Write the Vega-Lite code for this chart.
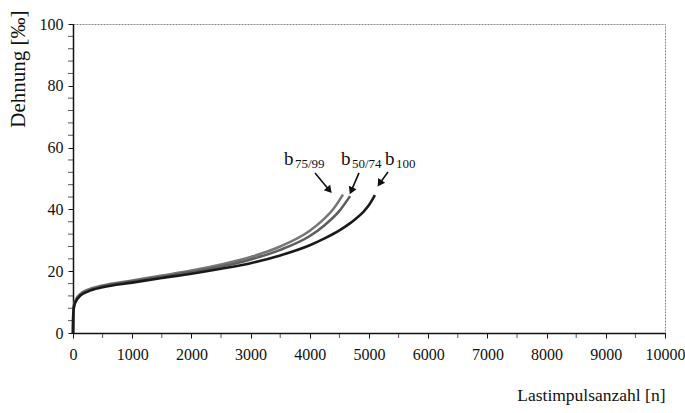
{
  "$schema": "https://vega.github.io/schema/vega-lite/v6.json",
  "width": 592,
  "height": 309,
  "autosize": {"type": "none"},
  "padding": {"left": 73, "top": 24, "right": 20, "bottom": 80},
  "background": "white",
  "config": {
    "view": {"stroke": "#8a8a8a", "strokeDash": [2, 1], "strokeWidth": 1},
    "font": "Liberation Serif",
    "axis": {"labelFont": "Liberation Serif", "titleFont": "Liberation Serif"}
  },
  "datasets": {
    "curves": [
      {"serie": "b75/99", "n": 0, "e": 0},
      {"serie": "b75/99", "n": 5, "e": 6.5},
      {"serie": "b75/99", "n": 20, "e": 9.3},
      {"serie": "b75/99", "n": 60, "e": 11.2},
      {"serie": "b75/99", "n": 120, "e": 12.6},
      {"serie": "b75/99", "n": 250, "e": 14.0},
      {"serie": "b75/99", "n": 500, "e": 15.4},
      {"serie": "b75/99", "n": 1000, "e": 17.0},
      {"serie": "b75/99", "n": 1500, "e": 18.6},
      {"serie": "b75/99", "n": 2000, "e": 20.2},
      {"serie": "b75/99", "n": 2500, "e": 22.2},
      {"serie": "b75/99", "n": 3000, "e": 24.6},
      {"serie": "b75/99", "n": 3500, "e": 28.0},
      {"serie": "b75/99", "n": 4000, "e": 33.1},
      {"serie": "b75/99", "n": 4200, "e": 36.2},
      {"serie": "b75/99", "n": 4400, "e": 40.2},
      {"serie": "b75/99", "n": 4560, "e": 44.8},
      {"serie": "b50/74", "n": 0, "e": 0},
      {"serie": "b50/74", "n": 5, "e": 6.3},
      {"serie": "b50/74", "n": 20, "e": 9.0},
      {"serie": "b50/74", "n": 60, "e": 10.9},
      {"serie": "b50/74", "n": 120, "e": 12.3},
      {"serie": "b50/74", "n": 250, "e": 13.7},
      {"serie": "b50/74", "n": 500, "e": 15.1},
      {"serie": "b50/74", "n": 1000, "e": 16.7},
      {"serie": "b50/74", "n": 1500, "e": 18.2},
      {"serie": "b50/74", "n": 2000, "e": 19.7},
      {"serie": "b50/74", "n": 2500, "e": 21.5},
      {"serie": "b50/74", "n": 3000, "e": 23.8},
      {"serie": "b50/74", "n": 3500, "e": 26.9},
      {"serie": "b50/74", "n": 4000, "e": 31.4},
      {"serie": "b50/74", "n": 4250, "e": 34.9},
      {"serie": "b50/74", "n": 4500, "e": 39.5},
      {"serie": "b50/74", "n": 4680, "e": 44.3},
      {"serie": "b100", "n": 0, "e": 0},
      {"serie": "b100", "n": 5, "e": 6.0},
      {"serie": "b100", "n": 20, "e": 8.8},
      {"serie": "b100", "n": 60, "e": 10.6},
      {"serie": "b100", "n": 120, "e": 12.0},
      {"serie": "b100", "n": 250, "e": 13.4},
      {"serie": "b100", "n": 500, "e": 14.8},
      {"serie": "b100", "n": 1000, "e": 16.3},
      {"serie": "b100", "n": 1500, "e": 17.8},
      {"serie": "b100", "n": 2000, "e": 19.2},
      {"serie": "b100", "n": 2500, "e": 20.8},
      {"serie": "b100", "n": 3000, "e": 22.6},
      {"serie": "b100", "n": 3500, "e": 25.1},
      {"serie": "b100", "n": 4000, "e": 28.4},
      {"serie": "b100", "n": 4250, "e": 30.6},
      {"serie": "b100", "n": 4500, "e": 33.2},
      {"serie": "b100", "n": 4700, "e": 35.8},
      {"serie": "b100", "n": 4900, "e": 39.1},
      {"serie": "b100", "n": 5000, "e": 41.4},
      {"serie": "b100", "n": 5100, "e": 44.6}
    ],
    "arrows": [
      {"serie": "b75/99", "n1": 4088, "e1": 51.8, "n2": 4330, "e2": 46.2},
      {"serie": "b50/74", "n1": 4831, "e1": 51.8, "n2": 4700, "e2": 46.0},
      {"serie": "b100", "n1": 5321, "e1": 52.1, "n2": 5180, "e2": 48.4}
    ],
    "labels": [
      {"t": "b", "n": 3564, "e": 54.4, "kind": "main"},
      {"t": "75/99", "n": 3750, "e": 53.4, "kind": "sub"},
      {"t": "b", "n": 4527, "e": 54.4, "kind": "main"},
      {"t": "50/74", "n": 4713, "e": 53.4, "kind": "sub"},
      {"t": "b", "n": 5270, "e": 54.4, "kind": "main"},
      {"t": "100", "n": 5456, "e": 53.4, "kind": "sub"}
    ]
  },
  "layer": [
    {
      "data": {"name": "curves"},
      "mark": {"type": "line", "strokeWidth": 2.6, "interpolate": "monotone"},
      "encoding": {
        "x": {
          "field": "n", "type": "quantitative",
          "scale": {"domain": [0, 10000], "nice": false},
          "axis": {
            "values": [0, 1000, 2000, 3000, 4000, 5000, 6000, 7000, 8000, 9000, 10000],
            "format": "d",
            "title": "Lastimpulsanzahl [n]",
            "titleFont": "Liberation Serif", "titleFontSize": 17.5, "titleFontWeight": "normal",
            "titleColor": "#111",
            "titleAnchor": "end", "titleAlign": "right",
            "titleX": 592, "titleY": 67, "titleBaseline": "alphabetic",
            "labelFont": "Liberation Serif", "labelFontSize": 16, "labelColor": "#111",
            "labelPadding": 8, "labelFlush": false,
            "domainColor": "#111", "domainWidth": 1.5,
            "tickColor": "#111", "tickSize": 5, "tickWidth": 1,
            "grid": false
          }
        },
        "y": {
          "field": "e", "type": "quantitative",
          "scale": {"domain": [0, 100], "nice": false},
          "axis": {
            "values": [0, 20, 40, 60, 80, 100],
            "format": "d",
            "title": "Dehnung [‰]",
            "titleFont": "Liberation Serif", "titleFontSize": 21, "titleFontWeight": "normal",
            "titleColor": "#111",
            "titleAngle": 270, "titleAnchor": "end", "titleAlign": "right",
            "titleX": -55, "titleY": -14, "titleBaseline": "middle",
            "labelFont": "Liberation Serif", "labelFontSize": 16, "labelColor": "#111",
            "labelPadding": 5,
            "domainColor": "#111", "domainWidth": 1.5,
            "tickColor": "#111", "tickSize": 5, "tickWidth": 1,
            "grid": false
          }
        },
        "color": {
          "field": "serie", "type": "nominal",
          "scale": {"domain": ["b75/99", "b50/74", "b100"], "range": ["#777777", "#5e5e5e", "#1a1a1a"]},
          "legend": null
        },
        "detail": {"field": "serie"}
      }
    },
    {
      "data": {"values": [{"v": 4}, {"v": 8}, {"v": 12}, {"v": 16}, {"v": 24}, {"v": 28}, {"v": 32}, {"v": 36}, {"v": 44}, {"v": 48}, {"v": 52}, {"v": 56}, {"v": 64}, {"v": 68}, {"v": 72}, {"v": 76}, {"v": 84}, {"v": 88}, {"v": 92}, {"v": 96}]},
      "mark": {"type": "tick", "orient": "horizontal", "color": "#111", "thickness": 1, "size": 5, "xOffset": -2.5},
      "encoding": {
        "y": {"field": "v", "type": "quantitative"},
        "x": {"datum": 0, "type": "quantitative"}
      }
    },
    {
      "data": {"values": [{"v": 500}, {"v": 1500}, {"v": 2500}, {"v": 3500}, {"v": 4500}, {"v": 5500}, {"v": 6500}, {"v": 7500}, {"v": 8500}, {"v": 9500}]},
      "mark": {"type": "tick", "orient": "vertical", "color": "#111", "thickness": 1, "size": 5, "yOffset": 2.5},
      "encoding": {
        "x": {"field": "v", "type": "quantitative"},
        "y": {"datum": 0, "type": "quantitative"}
      }
    },
    {
      "data": {"name": "arrows"},
      "mark": {"type": "rule", "color": "#111", "strokeWidth": 1.6},
      "encoding": {
        "x": {"field": "n1", "type": "quantitative"},
        "y": {"field": "e1", "type": "quantitative"},
        "x2": {"field": "n2"},
        "y2": {"field": "e2"}
      }
    },
    {
      "data": {"name": "arrows"},
      "transform": [{"filter": "datum.serie == 'b75/99'"}],
      "mark": {"type": "point", "shape": "triangle-up", "filled": true, "color": "#111", "size": 70, "angle": 139, "opacity": 1},
      "encoding": {
        "x": {"field": "n2", "type": "quantitative"},
        "y": {"field": "e2", "type": "quantitative"}
      }
    },
    {
      "data": {"name": "arrows"},
      "transform": [{"filter": "datum.serie == 'b50/74'"}],
      "mark": {"type": "point", "shape": "triangle-up", "filled": true, "color": "#111", "size": 70, "angle": 204, "opacity": 1},
      "encoding": {
        "x": {"field": "n2", "type": "quantitative"},
        "y": {"field": "e2", "type": "quantitative"}
      }
    },
    {
      "data": {"name": "arrows"},
      "transform": [{"filter": "datum.serie == 'b100'"}],
      "mark": {"type": "point", "shape": "triangle-up", "filled": true, "color": "#111", "size": 70, "angle": 214, "opacity": 1},
      "encoding": {
        "x": {"field": "n2", "type": "quantitative"},
        "y": {"field": "e2", "type": "quantitative"}
      }
    },
    {
      "data": {"name": "labels"},
      "transform": [{"filter": "datum.kind == 'main'"}],
      "mark": {"type": "text", "font": "Liberation Serif", "fontSize": 19, "align": "left", "baseline": "alphabetic", "color": "#111"},
      "encoding": {
        "x": {"field": "n", "type": "quantitative"},
        "y": {"field": "e", "type": "quantitative"},
        "text": {"field": "t"}
      }
    },
    {
      "data": {"name": "labels"},
      "transform": [{"filter": "datum.kind == 'sub'"}],
      "mark": {"type": "text", "font": "Liberation Serif", "fontSize": 13, "align": "left", "baseline": "alphabetic", "color": "#111"},
      "encoding": {
        "x": {"field": "n", "type": "quantitative"},
        "y": {"field": "e", "type": "quantitative"},
        "text": {"field": "t"}
      }
    }
  ]
}
